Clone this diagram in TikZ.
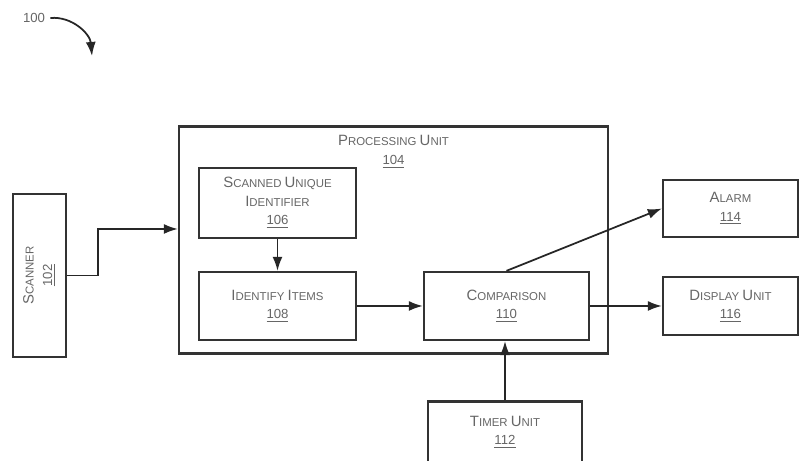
\documentclass[tikz,border=0pt]{standalone}
\usepackage{fontspec}
\setmainfont{Liberation Sans}
\usetikzlibrary{arrows.meta}
\newcommand{\Cap}[1]{{\fontsize{8.5}{10}\selectfont #1}}
\newcommand{\refno}[1]{{\fontsize{7.5}{10}\selectfont\underline{#1}}}
\tikzset{
  txt/.style={align=center, inner sep=0pt, text=black!60,
    font=\fontsize{6.5}{10.5}\selectfont},
  unit/.style={txt, draw=black!80, line width=1.3pt},
  arr/.style={draw=black!85, line width=1pt, -{Latex[length=2.8mm,width=2mm]}}
}
\begin{document}
\begin{tikzpicture}
\useasboundingbox (0,0) rectangle (15.98,9.22);
%标号
\node[txt, font=\fontsize{7.5}{9}\selectfont] (lbl) at (0.68,8.86) {100};
\coordinate (tip) at (1.84,8.10);
%外框
\node[unit, minimum width=8.58cm, minimum height=4.54cm] (proc) at (7.87,4.42) {};
\node[txt, anchor=north] (proclbl) at ([yshift=-0.2cm]proc.north) {\Cap{P}ROCESSING \Cap{U}NIT\\\refno{104}};
%左侧
\node[unit, minimum width=3.26cm, minimum height=1.06cm, rotate=90] (scan) at (0.79,3.71) {\Cap{S}CANNER\\\refno{102}};
%内部
\node[unit, minimum width=3.14cm, minimum height=1.40cm] (suid) at (5.55,5.16) {\Cap{S}CANNED \Cap{U}NIQUE\\\Cap{I}DENTIFIER\\\refno{106}};
\node[unit, minimum width=3.14cm, minimum height=1.36cm] (ident) at (5.55,3.10) {\Cap{I}DENTIFY \Cap{I}TEMS\\\refno{108}};
\node[unit, minimum width=3.30cm, minimum height=1.36cm] (comp) at (10.13,3.10) {\Cap{C}OMPARISON\\\refno{110}};
%右侧
\node[unit, minimum width=2.70cm, minimum height=1.14cm] (alarm) at (14.61,5.05) {\Cap{A}LARM\\\refno{114}};
\node[unit, minimum width=2.70cm, minimum height=1.16cm] (disp) at (14.61,3.10) {\Cap{D}ISPLAY \Cap{U}NIT\\\refno{116}};
%底部
\node[unit, minimum width=3.08cm, minimum height=1.22cm] (timer) at (10.10,0.58) {\Cap{T}IMER \Cap{U}NIT\\\refno{112}};

\draw[arr] (lbl.east) ++(0.1,0) to[out=5,in=95] (tip);
\draw[arr] (scan.south) -- ++(0.62,0) |- ([yshift=0.22cm]proc.west);
\draw[arr] (suid) -- (ident);
\draw[arr] (ident) -- (comp);
\draw[arr] (comp.north) -- (alarm.west);
\draw[arr] (comp) -- (disp);
\draw[arr] (timer.north) -- (timer.north |- comp.south);
\end{tikzpicture}
\end{document}
